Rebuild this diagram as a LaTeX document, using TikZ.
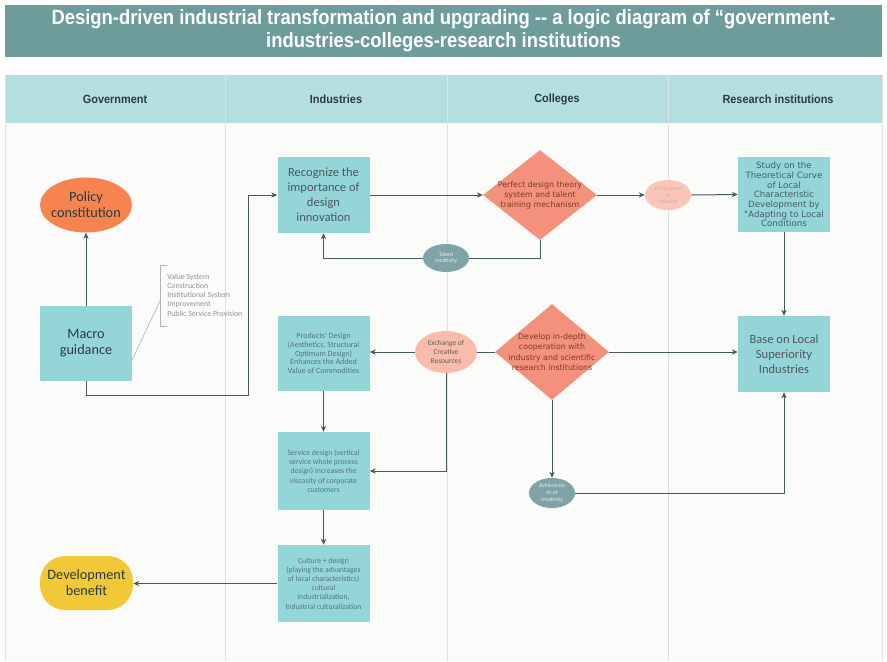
\documentclass[tikz,border=0pt]{standalone}
\usepackage{fontspec}
\setmainfont{Liberation Sans}
\newfontfamily\titlefont{Liberation Sans}[FakeStretch=0.89]
\newfontfamily\headfont{Liberation Sans}[FakeStretch=0.92]
\newfontfamily\calfont{Carlito}
\newfontfamily\widefont{DejaVu Sans}
\usetikzlibrary{shapes.geometric,arrows.meta}

\definecolor{titlebg}{HTML}{6E9C9B}
\definecolor{headbg}{HTML}{B4DFE0}
\definecolor{bodybg}{HTML}{FBFBF9}
\definecolor{divline}{HTML}{DCE3E2}
\definecolor{boxfill}{HTML}{94D5D8}
\definecolor{orangefill}{HTML}{F5844F}
\definecolor{salmonfill}{HTML}{F4917C}
\definecolor{pinkfill}{HTML}{F9BCAA}
\definecolor{greyfill}{HTML}{7FA3A6}
\definecolor{yellowfill}{HTML}{F1C838}
\definecolor{linec}{HTML}{44595C}
\definecolor{darktext}{HTML}{2E3B3D}
\definecolor{softtext}{HTML}{587579}
\definecolor{browntext}{HTML}{7A3B2C}
\definecolor{notetext}{HTML}{8C9596}

\tikzset{
  boxnode/.style={rectangle, fill=boxfill, inner sep=1pt, align=center,
    minimum width=92*0.75pt, minimum height=76*0.75pt},
  bigtext/.style={font=\calfont\fontsize{10.7}{12}\selectfont, text=darktext},
  midtext/.style={font=\calfont\fontsize{9.4}{11.2}\selectfont, text=darktext!85},
  smalltext/.style={font=\calfont\fontsize{5.8}{6.9}\selectfont, text=softtext},
  widetext/.style={font=\widefont\fontsize{5.9}{7.6}\selectfont, text=browntext},
  studytext/.style={font=\widefont\fontsize{6.5}{7.3}\selectfont, text=softtext!80!black},
  % negative inner sep keeps the shape at its minimum size around the text
  diamondnode/.style={diamond, fill=salmonfill, inner sep=-20pt, aspect=1.27,
    align=center, widetext},
  ovalnode/.style={ellipse, inner sep=-6pt, align=center},
  tinytext/.style={font=\calfont\fontsize{4.4}{5}\selectfont},
  headtext/.style={font=\headfont\bfseries\fontsize{8.9}{10}\selectfont, text=darktext},
  conn/.style={draw=linec, line width=0.75pt},
  arr/.style={conn, -{Stealth[length=4.5pt, width=4pt]}},
  divider/.style={draw=divline, line width=0.6pt}
}

\begin{document}
\begin{tikzpicture}[x=0.75pt, y=-0.75pt]
  \useasboundingbox (0,0) rectangle (887,661);
  \fill[white] (0,0) rectangle (887,661);

  % title banner
  \fill[titlebg] (5,5) rectangle (882,57);
  \node (title) at (443.5,31) [align=center, text=white,
    font=\titlefont\bfseries\fontsize{15.5}{17}\selectfont]
    {Design-driven industrial transformation and upgrading -- a logic diagram of “government-\\
     industries-colleges-research institutions};

  % swimlane frame
  \fill[headbg] (5,75) rectangle (882,123);
  \fill[bodybg] (5,123) rectangle (882,661);
  \foreach \xx in {5,225,447,668,882}
    \draw[divider] (\xx,75) -- (\xx,661);

  \node (hgov) at (115,99) [headtext] {Government};
  \node (hind) at (336,99) [headtext] {Industries};
  \node (hcol) at (557,99) [headtext] {Colleges};
  \node (hres) at (778,99) [headtext] {Research institutions};

  % government lane
  \node (policy) at (86,205) [ovalnode, fill=orangefill, minimum width=92*0.75pt,
    minimum height=55*0.75pt, bigtext] {Policy\\constitution};
  \node (macro) at (86,343.5) [boxnode, minimum height=75*0.75pt, bigtext] {Macro\\guidance};
  \node (devb) at (86.5,583) [rectangle, rounded corners=19pt, fill=yellowfill,
    minimum width=93*0.75pt, minimum height=54*0.75pt, align=center, bigtext]
    {Development\\benefit};

  % note bracket beside the guidance box
  \draw[draw=notetext!70, line width=0.5pt] (167,265) -- (160,265) -- (160,326) -- (167,326);
  \draw[draw=notetext!70, line width=0.5pt] (132,360) -- (160,301);
  \node (note) at (167,295) [anchor=west, align=left, inner sep=0pt, text=notetext,
    font=\calfont\fontsize{5.9}{6.9}\selectfont]
    {Value System\\Construction\\Institutional System\\Improvement\\Public Service Provision};

  % industries lane
  \node (recog) at (323.5,195) [boxnode, midtext]
    {Recognize the\\importance of\\design\\innovation};
  \node (prod) at (323.5,353.5) [boxnode, minimum height=75*0.75pt, smalltext,
    font=\calfont\fontsize{6}{6.5}\selectfont]
    {Products' Design\\(Aesthetics, Structural\\Optimum Design)\\Enhances the Added\\Value of Commodities};
  \node (serv) at (323.5,471) [boxnode, minimum height=78*0.75pt, smalltext]
    {Service design (vertical\\service whole process\\design) increases the\\viscosity of corporate\\customers};
  \node (cult) at (323.5,583.5) [boxnode, minimum height=77*0.75pt, smalltext]
    {Culture + design\\(playing the advantages\\of local characteristics)\\cultural\\industrialization,\\Industrial culturalization};

  % colleges lane
  \node (perfect) at (540,195) [diamondnode, minimum width=114*0.75pt, minimum height=90*0.75pt]
    {Perfect design theory\\system and talent\\training mechanism};
  \node (talent) at (446,258) [ovalnode, fill=greyfill, minimum width=46*0.75pt,
    minimum height=28*0.75pt, tinytext, text=white!85!greyfill] {Talent\\creativity};
  \node (exch) at (446,352) [ovalnode, fill=pinkfill, minimum width=62*0.75pt,
    minimum height=42*0.75pt, font=\calfont\fontsize{5.6}{7}\selectfont, text=softtext!60!browntext]
    {Exchange of\\Creative\\Resources};
  \node (develop) at (552,352) [diamondnode, minimum width=114*0.75pt, minimum height=96*0.75pt]
    {Develop in-depth\\cooperation with\\industry and scientific\\research institutions};
  \node (achA) at (668,195) [ovalnode, fill=pinkfill!85!white, minimum width=46*0.75pt,
    minimum height=30*0.75pt, tinytext, text=browntext!40!white] {Achieveme\\nt\\inclusion};
  \node (achB) at (552,493) [ovalnode, fill=greyfill, minimum width=46*0.75pt,
    minimum height=30*0.75pt, tinytext, text=white!80!greyfill] {Achieveme\\nt of\\creativity};

  % research lane
  \node (study) at (784,194.5) [boxnode, minimum height=75*0.75pt, studytext]
    {Study on the\\Theoretical Curve\\of Local\\Characteristic\\Development by\\"Adapting to Local\\Conditions};
  \node (base) at (784,354) [boxnode, midtext]
    {Base on Local\\Superiority\\Industries};

  % connectors
  \coordinate (bend) at (248,395);
  \draw[arr] (macro.north) -- (policy.south);
  \draw[arr] (macro.south) |- (bend) |- (recog.west);
  \draw[arr] (recog.east) -- (perfect.west);
  \draw[arr] (perfect.east) -- (achA.west);
  \draw[arr] (achA.east) -- (study.west);
  \draw[arr] (study.south) -- (base.north);
  \draw[conn] (perfect.south) |- (talent.east);
  \draw[arr] (talent.west) -| (recog.south);
  \draw[arr] (develop.east) -- (develop.east -| base.west);
  \draw[conn] (develop.west) -- (exch.east);
  \draw[arr] (exch.west) -- (exch.west -| prod.east);
  \draw[arr] (exch.south) |- (serv.east);
  \draw[arr] (prod.south) -- (serv.north);
  \draw[arr] (serv.south) -- (cult.north);
  \draw[arr] (cult.west) -- (cult.west -| devb.east);
  \draw[arr] (develop.south) -- (achB.north);
  \draw[arr] (achB.east) -| (base.south);
\end{tikzpicture}
\end{document}
